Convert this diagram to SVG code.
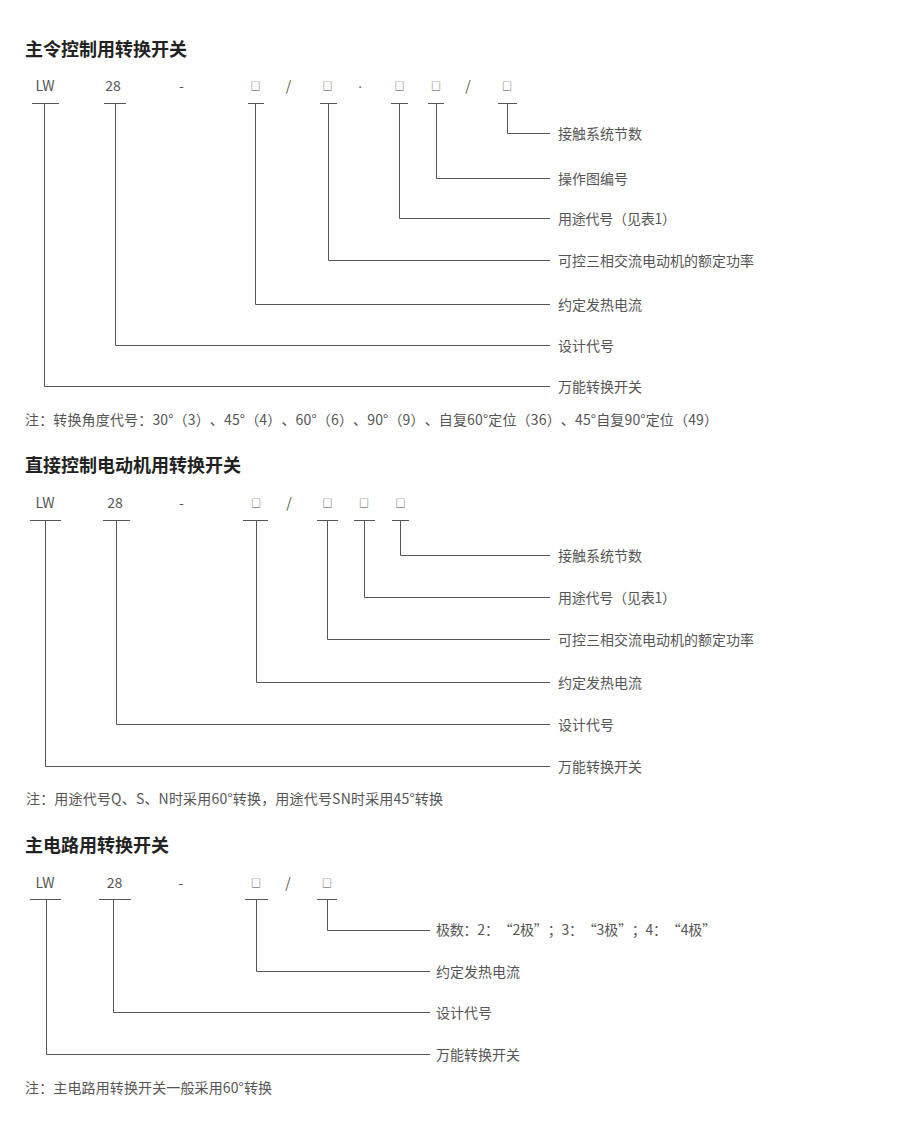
<svg xmlns="http://www.w3.org/2000/svg" width="900" height="1134" viewBox="0 0 900 1134">
<style>
text{font-family:"Noto Sans CJK SC","Noto Sans",sans-serif;text-spacing-trim:space-all;}
.title{font-size:18px;font-weight:bold;fill:#222;}
.code{font-size:14px;fill:#555;text-anchor:middle;}
.dot{font-size:14px;fill:#555;text-anchor:middle;font-family:"Liberation Sans",sans-serif;}
.box{font-size:10px;fill:#444;text-anchor:middle;}
.lbl{font-size:14px;fill:#555;}
.note{font-size:14px;fill:#555;}
.ln{stroke:#555;stroke-width:1;fill:none;}
</style>
<rect width="900" height="1134" fill="#fff"/>

<!-- Section 1 -->
<g id="sec1-title"><text class="title" x="25" y="56">主令控制用转换开关</text></g>
<g id="sec1-codes">
<text class="code" x="45" y="91">LW</text>
<text class="code" x="113" y="91">28</text>
<text class="code" x="181.5" y="91">-</text>
<text class="box" x="255.5" y="90">□</text>
<text class="code" x="288.5" y="91">/</text>
<text class="box" x="327.5" y="90">□</text>
<text class="dot" x="360" y="91">·</text>
<text class="box" x="399.5" y="90">□</text>
<text class="box" x="436" y="90">□</text>
<text class="code" x="468" y="91">/</text>
<text class="box" x="507" y="90">□</text>
</g>
<g id="sec1-labels">
<text class="lbl" x="558" y="139">接触系统节数</text>
<text class="lbl" x="558" y="184">操作图编号</text>
<text class="lbl" x="558" y="224" textLength="118" lengthAdjust="spacing">用途代号（见表1）</text>
<text class="lbl" x="558" y="266">可控三相交流电动机的额定功率</text>
<text class="lbl" x="558" y="310">约定发热电流</text>
<text class="lbl" x="558" y="351">设计代号</text>
<text class="lbl" x="558" y="392">万能转换开关</text>
</g>
<g id="sec1-connectors">
<path class="ln" d="M32 103.5H59M104 103.5H126M248 103.5H264M320 103.5H337M391 103.5H408M428 103.5H444M498 103.5H517"/>
<path class="ln" d="M507.5 103.5V133.5H550M436.5 103.5V178.5H550M399.5 103.5V218.5H550M328.5 103.5V260.5H550M255.5 103.5V304.5H550M115.5 103.5V345.5H550M44.5 103.5V386.5H550"/>
</g>
<g id="sec1-note"><text class="note" x="25" y="425" textLength="693" lengthAdjust="spacing">注：转换角度代号：30°（3）、45°（4）、60°（6）、90°（9）、自复60°定位（36）、45°自复90°定位（49）</text></g>

<!-- Section 2 -->
<g id="sec2-title"><text class="title" x="25" y="472">直接控制电动机用转换开关</text></g>
<g id="sec2-codes">
<text class="code" x="45" y="508">LW</text>
<text class="code" x="115" y="508">28</text>
<text class="code" x="181.5" y="508">-</text>
<text class="box" x="256" y="507">□</text>
<text class="code" x="289" y="508">/</text>
<text class="box" x="327.5" y="507">□</text>
<text class="box" x="364" y="507">□</text>
<text class="box" x="400.5" y="507">□</text>
</g>
<g id="sec2-labels">
<text class="lbl" x="558" y="561">接触系统节数</text>
<text class="lbl" x="558" y="603" textLength="118" lengthAdjust="spacing">用途代号（见表1）</text>
<text class="lbl" x="558" y="645">可控三相交流电动机的额定功率</text>
<text class="lbl" x="558" y="688">约定发热电流</text>
<text class="lbl" x="558" y="730">设计代号</text>
<text class="lbl" x="558" y="772">万能转换开关</text>
</g>
<g id="sec2-connectors">
<path class="ln" d="M30 520.5H61M103 520.5H130M243 520.5H268M317 520.5H338M354 520.5H375M392 520.5H409"/>
<path class="ln" d="M400.5 520.5V555.5H550M364.5 520.5V597.5H550M327.5 520.5V639.5H550M256.5 520.5V682.5H550M116.5 520.5V724.5H550M45.5 520.5V766.5H550"/>
</g>
<g id="sec2-note"><text class="note" x="26" y="804" textLength="417" lengthAdjust="spacing">注：用途代号Q、S、N时采用60°转换，用途代号SN时采用45°转换</text></g>

<!-- Section 3 -->
<g id="sec3-title"><text class="title" x="25" y="852">主电路用转换开关</text></g>
<g id="sec3-codes">
<text class="code" x="45" y="888">LW</text>
<text class="code" x="114.5" y="888">28</text>
<text class="code" x="181" y="888">-</text>
<text class="box" x="256" y="887">□</text>
<text class="code" x="288" y="888">/</text>
<text class="box" x="327" y="887">□</text>
</g>
<g id="sec3-labels">
<text class="lbl" x="436" y="935" textLength="280" lengthAdjust="spacing">极数：2：“2极”；3：“3极”；4：“4极”</text>
<text class="lbl" x="436" y="977">约定发热电流</text>
<text class="lbl" x="436" y="1018">设计代号</text>
<text class="lbl" x="436" y="1060">万能转换开关</text>
</g>
<g id="sec3-connectors">
<path class="ln" d="M30 899.5H61M99 899.5H131M245 899.5H268M317 899.5H337"/>
<path class="ln" d="M327.5 899.5V930.5H430M256.5 899.5V971.5H430M113.5 899.5V1012.5H430M46.5 899.5V1054.5H430"/>
</g>
<g id="sec3-note"><text class="note" x="25" y="1093" textLength="247" lengthAdjust="spacing">注：主电路用转换开关一般采用60°转换</text></g>
</svg>
